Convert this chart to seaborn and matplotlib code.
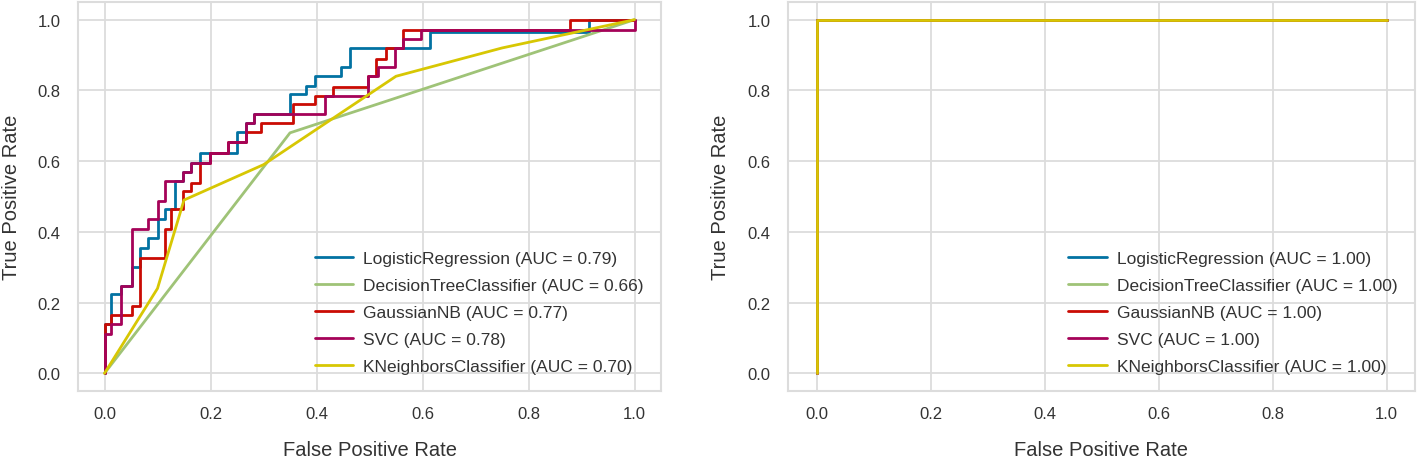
import numpy as np
import pandas as pd
import seaborn as sns
import matplotlib.pyplot as plt

models = ["LogisticRegression", "DecisionTreeClassifier", "GaussianNB", "SVC", "KNeighborsClassifier"]
colors = ["#0272a2", "#9fc377", "#ca0b03", "#a50258", "#d7c703"]

auc_left = [0.79, 0.66, 0.77, 0.78, 0.70]
auc_right = [1.00, 1.00, 1.00, 1.00, 1.00]

# ROC corners (fpr, tpr)
lr_fpr = [0, 0, 0.013, 0.013, 0.032, 0.032, 0.051, 0.051, 0.067, 0.067, 0.082, 0.082,
          0.10, 0.10, 0.114, 0.114, 0.133, 0.133, 0.148, 0.148, 0.164, 0.164, 0.181, 0.181,
          0.25, 0.25, 0.267, 0.267, 0.282, 0.282, 0.35, 0.35, 0.381, 0.381, 0.397, 0.397,
          0.447, 0.447, 0.463, 0.463, 0.615, 0.615, 0.915, 0.915, 1.0]
lr_tpr = [0, 0.14, 0.14, 0.223, 0.223, 0.246, 0.246, 0.30, 0.30, 0.355, 0.355, 0.384,
          0.384, 0.435, 0.435, 0.464, 0.464, 0.544, 0.544, 0.568, 0.568, 0.596, 0.596, 0.624,
          0.624, 0.681, 0.681, 0.709, 0.709, 0.733, 0.733, 0.79, 0.79, 0.813, 0.813, 0.841,
          0.841, 0.865, 0.865, 0.92, 0.92, 0.965, 0.965, 1.0, 1.0]

dt_fpr = [0, 0.35, 1.0]
dt_tpr = [0, 0.68, 1.0]

nb_fpr = [0, 0, 0.013, 0.013, 0.051, 0.051, 0.067, 0.067, 0.114, 0.114, 0.125, 0.125,
          0.148, 0.148, 0.164, 0.164, 0.181, 0.181, 0.199, 0.199, 0.233, 0.233, 0.267, 0.267,
          0.296, 0.296, 0.355, 0.355, 0.397, 0.397, 0.431, 0.431, 0.497, 0.497, 0.513, 0.513,
          0.532, 0.532, 0.563, 0.563, 0.878, 0.878, 1.0]
nb_tpr = [0, 0.14, 0.14, 0.166, 0.166, 0.19, 0.19, 0.327, 0.327, 0.407, 0.407, 0.464,
          0.464, 0.516, 0.516, 0.539, 0.539, 0.596, 0.596, 0.624, 0.624, 0.653, 0.653, 0.681,
          0.681, 0.709, 0.709, 0.761, 0.761, 0.785, 0.785, 0.811, 0.811, 0.841, 0.841, 0.89,
          0.89, 0.92, 0.92, 0.972, 0.972, 1.0, 1.0]

svc_fpr = [0, 0, 0.013, 0.013, 0.032, 0.032, 0.051, 0.051, 0.082, 0.082, 0.10, 0.10,
           0.114, 0.114, 0.148, 0.148, 0.164, 0.164, 0.199, 0.199, 0.233, 0.233, 0.267, 0.267,
           0.282, 0.282, 0.416, 0.416, 0.497, 0.497, 0.516, 0.516, 0.548, 0.548, 0.563, 0.563,
           0.598, 0.598, 1.0, 1.0]
svc_tpr = [0, 0.11, 0.11, 0.14, 0.14, 0.246, 0.246, 0.407, 0.407, 0.435, 0.435, 0.487,
           0.487, 0.544, 0.544, 0.568, 0.568, 0.596, 0.596, 0.624, 0.624, 0.653, 0.653, 0.709,
           0.709, 0.733, 0.733, 0.785, 0.785, 0.841, 0.841, 0.865, 0.865, 0.92, 0.92, 0.946,
           0.946, 0.972, 0.972, 1.0]

knn_fpr = [0, 0.10, 0.15, 0.30, 0.55, 0.75, 1.0]
knn_tpr = [0, 0.24, 0.49, 0.59, 0.84, 0.92, 1.0]

# right panel: every model is perfect
perfect_fpr = [0, 0, 1.0]
perfect_tpr = [0, 1.0, 1.0]

left_curves = [(lr_fpr, lr_tpr), (dt_fpr, dt_tpr), (nb_fpr, nb_tpr),
               (svc_fpr, svc_tpr), (knn_fpr, knn_tpr)]
right_curves = [(perfect_fpr, perfect_tpr)] * 5


def make_frame(curves, aucs):
    rows = []
    for name, (fpr, tpr), auc in zip(models, curves, aucs):
        label = f"{name} (AUC = {auc:.2f})"
        for f, t in zip(fpr, tpr):
            rows.append({"fpr": f, "tpr": t, "model": label})
    return pd.DataFrame(rows)


sns.set_style("whitegrid", {"grid.color": "#dcdcdc", "axes.edgecolor": "#dcdcdc"})
plt.rcParams["font.family"] = ["Liberation Sans", "DejaVu Sans"]
plt.rcParams["axes.linewidth"] = 1.5
plt.rcParams["grid.linewidth"] = 1.3

fig = plt.figure(figsize=(14.18, 4.6), dpi=100)
ax1 = fig.add_axes([78 / 1418, 68 / 460, 583 / 1418, 389 / 460])
ax2 = fig.add_axes([788 / 1418, 68 / 460, 627 / 1418, 389 / 460])

panels = [(ax1, left_curves, auc_left, -0.098), (ax2, right_curves, auc_right, -0.093)]
for ax, curves, aucs, ylab_x in panels:
    df = make_frame(curves, aucs)
    sns.lineplot(data=df, x="fpr", y="tpr", hue="model", palette=colors,
                 sort=False, estimator=None, units="model", linewidth=2, ax=ax)
    ax.set_xlim(-0.05, 1.05)
    ax.set_ylim(-0.05, 1.05)
    ax.set_xticks([0, 0.2, 0.4, 0.6, 0.8, 1.0])
    ax.set_yticks([0, 0.2, 0.4, 0.6, 0.8, 1.0])
    ax.tick_params(axis="x", labelsize=12, colors="#333333", pad=7)
    ax.tick_params(axis="y", labelsize=12, colors="#333333", pad=9)
    ax.set_xlabel("False Positive Rate", fontsize=14.5, color="#333333")
    ax.set_ylabel("True Positive Rate", fontsize=14.5, color="#333333")
    ax.xaxis.set_label_coords(0.5, -0.125)
    ax.yaxis.set_label_coords(ylab_x, 0.5)
    leg = ax.legend(loc="lower right", frameon=False, fontsize=12.5,
                    handlelength=2.2, handletextpad=0.6, borderaxespad=0.6,
                    labelspacing=0.68)
    for t in leg.get_texts():
        t.set_color("#333333")

fig.savefig("out.png", dpi=100)
